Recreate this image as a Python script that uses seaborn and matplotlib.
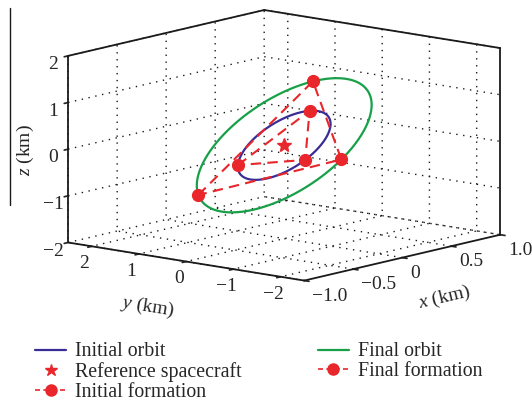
import numpy as np
import matplotlib
matplotlib.use("Agg")
import matplotlib.pyplot as plt
from matplotlib.lines import Line2D
import seaborn as sns

# orbit ellipses: point(t) = U cos t + V sin t   (x, y, z in km)
initial_orbit_u = [-0.232, 0.499, -0.392]
initial_orbit_v = [0.250, 0.464, 0.409]
final_orbit_u = [-0.538, 0.702, -0.915]
final_orbit_v = [0.351, 1.076, 0.619]

# formation members (km)
initial_formation_x = [-0.232, 0.332, -0.100]
initial_formation_y = [0.499, 0.152, -0.652]
initial_formation_z = [-0.392, 0.550, -0.158]
final_formation_x = [-0.538, 0.573, -0.035]
final_formation_y = [0.702, 0.581, -1.283]
final_formation_z = [-0.915, 0.994, -0.078]

reference_xyz = [0.0, 0.0, 0.0]

x_ticks = [-1.0, -0.5, 0.0, 0.5, 1.0]
x_ticklabels = ["\u22121.0", "\u22120.5", "0", "0.5", "1.0"]
y_ticks = [-2, -1, 0, 1, 2]
y_ticklabels = ["\u22122", "\u22121", "0", "1", "2"]
z_ticks = [-2, -1, 0, 1, 2]
z_ticklabels = ["\u22122", "\u22121", "0", "1", "2"]

BLUE = "#3a2c96"
GREEN = "#17a047"
RED = "#e8262b"

sns.set_theme(style="white")
plt.rcParams["font.family"] = ["Liberation Serif", "DejaVu Serif"]
plt.rcParams["mathtext.fontset"] = "custom"
plt.rcParams["mathtext.it"] = "Liberation Serif:italic"
plt.rcParams["mathtext.rm"] = "Liberation Serif"
plt.rcParams["axes.unicode_minus"] = True

W, H = 532, 401
side = 460  # square drawing area of the 3d axes, pixels
cx, cy = 278, 151.5
fig = plt.figure(figsize=(W / 100, H / 100), dpi=100)
ax = fig.add_axes([(cx - side / 2) / W, (H - cy - side / 2) / H, side / W, side / H],
                  projection="3d", proj_type="ortho", computed_zorder=False)
ax.set_box_aspect((1, 1, 0.62), zoom=1.0)
ax.view_init(elev=11.2, azim=-140.3)
ax.patch.set_alpha(0)

xlim, ylim, zlim = (-1, 1), (-2.5, 2.5), (-2, 2)
ax.set_xlim(*xlim)
ax.set_ylim(*ylim)
ax.set_zlim(*zlim)

# panes / grid
for axis in (ax.xaxis, ax.yaxis, ax.zaxis):
    axis.set_pane_color((1, 1, 1, 0))
    axis.pane.set_edgecolor((1, 1, 1, 0))
    axis._axinfo["grid"].update({"color": "k", "linestyle": (0, (1, 4)),
                                 "linewidth": 1.0})
    axis._axinfo["tick"].update({"inward_factor": 0.25, "outward_factor": 0.0})
    axis.line.set_visible(False)

ax.set_xticks(x_ticks)
ax.set_xticklabels(x_ticklabels, fontsize=14, ha="left")
ax.set_yticks(y_ticks)
ax.set_yticklabels(y_ticklabels, fontsize=14)
ax.set_zticks(z_ticks)
ax.set_zticklabels(z_ticklabels, fontsize=14)
ax.tick_params(axis="x", pad=-2.5)
ax.tick_params(axis="y", pad=-1.5)
ax.tick_params(axis="z", pad=-2)
ax.set_xlabel("$x$ (km)", fontsize=14, labelpad=10)
ax.set_ylabel("$y$ (km)", fontsize=14, labelpad=13)
ax.set_zlabel("$z$ (km)", fontsize=14, labelpad=-4)

# box outline
box_kw = dict(color="k", linewidth=1.3, zorder=1, clip_on=False)
x0, x1 = xlim
y0, y1 = ylim
z0, z1 = zlim
ax.plot([x0, x0], [y1, y1], [z0, z1], **box_kw)
ax.plot([x0, x1], [y1, y1], [z1, z1], **box_kw)
ax.plot([x1, x1], [y1, y0], [z1, z1], **box_kw)
ax.plot([x1, x1], [y0, y0], [z0, z1], **box_kw)
ax.plot([x0, x0], [y1, y0], [z0, z0], **box_kw)
ax.plot([x0, x1], [y0, y0], [z0, z0], **box_kw)

# orbits
t = np.linspace(0, 2 * np.pi, 300)
for u, v, col in ((initial_orbit_u, initial_orbit_v, BLUE),
                  (final_orbit_u, final_orbit_v, GREEN)):
    pts = np.outer(np.cos(t), u) + np.outer(np.sin(t), v)
    ax.plot(pts[:, 0], pts[:, 1], pts[:, 2], color=col, linewidth=1.6, zorder=3)

# formations
dash = (0, (5, 3))
for fx, fy, fz in ((initial_formation_x, initial_formation_y, initial_formation_z),
                   (final_formation_x, final_formation_y, final_formation_z)):
    ax.plot(fx + fx[:1], fy + fy[:1], fz + fz[:1], color=RED, linestyle=dash,
            linewidth=1.5, zorder=4)
    ax.plot(fx, fy, fz, linestyle="none", marker="o", markersize=8.5,
            color=RED, zorder=5)

ax.plot([reference_xyz[0]], [reference_xyz[1]], [reference_xyz[2]],
        linestyle="none", marker="*", markersize=10, color=RED, zorder=5)

handles = [
    Line2D([], [], color=BLUE, linewidth=1.6),
    Line2D([], [], color=RED, marker="*", markersize=9, linestyle="none"),
    Line2D([], [], color=RED, linestyle=(0, (3, 2)), marker="o", markersize=8, linewidth=1.2),
    Line2D([], [], color=GREEN, linewidth=1.6),
    Line2D([], [], color=RED, linestyle=(0, (3, 2)), marker="o", markersize=8, linewidth=1.2),
]
labels = ["Initial orbit", "Reference spacecraft", "Initial formation",
          "Final orbit", "Final formation"]
fig.legend(handles, labels, loc="upper left", bbox_to_anchor=(0.066, 0.146),
           ncol=2, frameon=False, fontsize=14.3, handlelength=1.55,
           handletextpad=0.45, labelspacing=0.05, columnspacing=3.85,
           borderaxespad=0, borderpad=0)

fig.add_artist(Line2D([0.019, 0.019], [0.49, 0.98], color="k", linewidth=1.0,
                      transform=fig.transFigure))

fig.savefig("out.png", dpi=100)
